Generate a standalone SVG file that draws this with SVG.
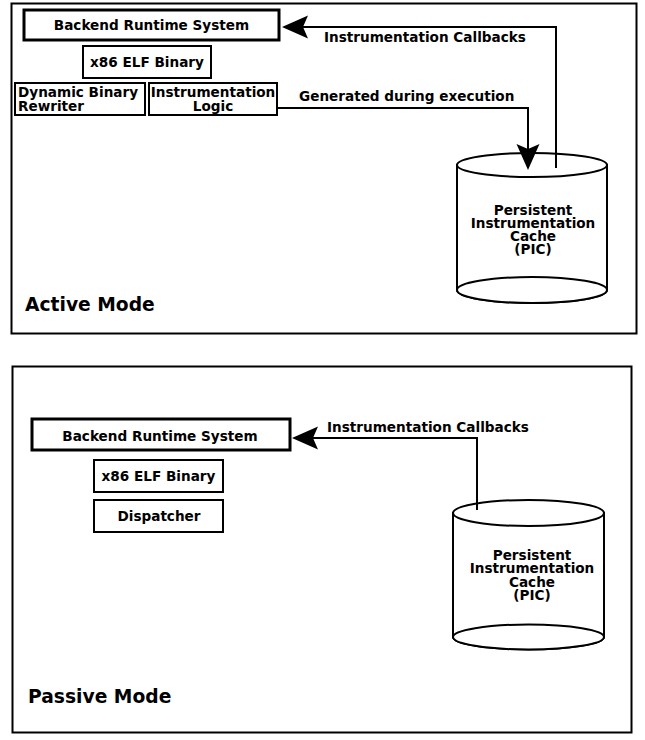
<svg xmlns="http://www.w3.org/2000/svg" width="645" height="740" viewBox="0 0 645 740">
  <style>
    .frame { fill: #ffffff; stroke: #000000; stroke-width: 2; }
    .box { fill: #ffffff; stroke: #000000; stroke-width: 2; }
    .box-main { fill: #ffffff; stroke: #000000; stroke-width: 3; }
    .cyl { fill: #ffffff; stroke: #000000; stroke-width: 2; }
    .wire { fill: none; stroke: #000000; stroke-width: 2; }
    text { font-family: "DejaVu Sans", "Liberation Sans", sans-serif; font-weight: bold; fill: #000000; }
    .lbl { font-size: 13.6px; }
    .mode { font-size: 18.7px; }
    .mid { text-anchor: middle; }
  </style>
  <defs>
    <!-- filled arrowhead with a notched back; tip sits 10px past the path end -->
    <marker id="arrow" markerUnits="userSpaceOnUse" viewBox="-27 -12 28 24" markerWidth="28" markerHeight="24" refX="-10" refY="0" orient="auto">
      <path d="M0,0 L-26,-11.5 L-21,0 L-26,11.5 Z" fill="#000000"/>
    </marker>
  </defs>

  <!-- Active mode panel -->
  <g id="active-frame">
    <rect class="frame" x="11.5" y="3.5" width="625" height="330"/>
    <text class="mode" x="25" y="311">Active Mode</text>
  </g>
  <g id="active-backend">
    <rect class="box-main" x="24" y="10" width="255" height="30"/>
    <text class="lbl mid" x="151.5" y="29.5">Backend Runtime System</text>
  </g>
  <g id="active-binary">
    <rect class="box" x="83" y="46" width="128" height="32"/>
    <text class="lbl mid" x="147" y="67">x86 ELF Binary</text>
  </g>
  <g id="active-rewriter">
    <rect class="box" x="15" y="83" width="130" height="32"/>
    <text class="lbl" x="18"><tspan x="18" y="97">Dynamic Binary</tspan><tspan x="18" y="110.5">Rewriter</tspan></text>
  </g>
  <g id="active-logic">
    <rect class="box" x="149" y="83" width="128" height="32"/>
    <text class="lbl mid"><tspan x="213" y="97">Instrumentation</tspan><tspan x="213" y="110.5">Logic</tspan></text>
  </g>
  <g id="active-pic">
    <path class="cyl" d="M457,165 V290 A75,13 0 0 0 607,290 V165 Z"/>
    <ellipse class="cyl" cx="532" cy="290" rx="75" ry="13"/>
    <ellipse class="cyl" cx="532" cy="165" rx="75" ry="12"/>
    <text class="lbl mid"><tspan x="533" y="214.5">Persistent</tspan><tspan x="533" y="227.8">Instrumentation</tspan><tspan x="533" y="241.1">Cache</tspan><tspan x="533" y="254.4">(PIC)</tspan></text>
  </g>

  <!-- Passive mode panel -->
  <g id="passive-frame">
    <rect class="frame" x="12.5" y="366.5" width="619" height="366"/>
    <text class="mode" x="28" y="703">Passive Mode</text>
  </g>
  <g id="passive-backend">
    <rect class="box-main" x="32" y="419" width="258" height="31"/>
    <text class="lbl mid" x="160" y="440.5">Backend Runtime System</text>
  </g>
  <g id="passive-binary">
    <rect class="box" x="94" y="460" width="129" height="32"/>
    <text class="lbl mid" x="158.5" y="481">x86 ELF Binary</text>
  </g>
  <g id="passive-dispatcher">
    <rect class="box" x="94" y="500" width="129" height="32"/>
    <text class="lbl mid" x="159" y="520.5">Dispatcher</text>
  </g>
  <g id="passive-pic">
    <path class="cyl" d="M453,513 V637 A75.5,12.5 0 0 0 604,637 V513 Z"/>
    <ellipse class="cyl" cx="528.5" cy="637" rx="75.5" ry="12.5"/>
    <ellipse class="cyl" cx="528.5" cy="513" rx="75.5" ry="13"/>
    <text class="lbl mid"><tspan x="532" y="559.5">Persistent</tspan><tspan x="532" y="573">Instrumentation</tspan><tspan x="532" y="587">Cache</tspan><tspan x="532" y="600">(PIC)</tspan></text>
  </g>

  <!-- connectors -->
  <g id="connectors">
    <path class="wire" d="M556,168 V27 H292" marker-end="url(#arrow)"/>
    <text class="lbl" x="324" y="42">Instrumentation Callbacks</text>
    <path class="wire" d="M277,108 H528 V160" marker-end="url(#arrow)"/>
    <text class="lbl" x="299" y="100.5">Generated during execution</text>
    <path class="wire" d="M477,510 V438 H302" marker-end="url(#arrow)"/>
    <text class="lbl" x="327" y="431.5">Instrumentation Callbacks</text>
  </g>
</svg>
